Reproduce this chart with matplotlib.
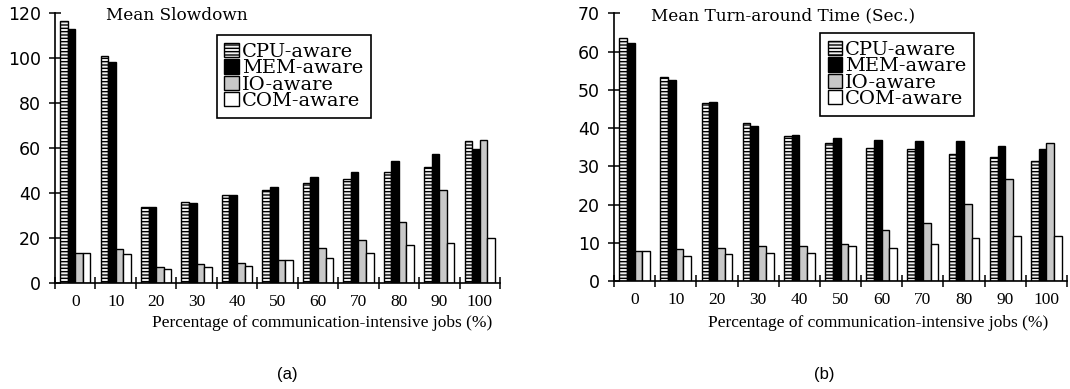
import matplotlib
matplotlib.use('Agg')
import matplotlib.pyplot as plt
from matplotlib.ticker import FixedLocator
import numpy as np

categories = ['0', '10', '20', '30', '40', '50', '60', '70', '80', '90', '100']
series_names = ['CPU-aware', 'MEM-aware', 'IO-aware', 'COM-aware']

slow_cpu = [116.7, 101.1, 33.9, 36.1, 39.1, 41.3, 44.3, 46.3, 49.4, 51.5, 63.1]
slow_mem = [113.0, 98.4, 33.9, 35.4, 39.1, 42.6, 47.1, 49.3, 54.3, 57.5, 59.6]
slow_io = [13.1, 15.0, 6.8, 8.2, 8.9, 10.1, 15.5, 19.0, 27.0, 41.2, 63.7]
slow_com = [13.1, 12.7, 6.1, 6.8, 7.6, 10.1, 11.0, 13.2, 16.9, 17.5, 20.0]

tat_cpu = [63.5, 53.3, 46.5, 41.3, 37.9, 36.1, 34.8, 34.4, 33.2, 32.3, 31.4]
tat_mem = [62.3, 52.5, 46.9, 40.5, 38.2, 37.3, 37.0, 36.6, 36.6, 35.2, 34.5]
tat_io = [7.8, 8.3, 8.7, 9.1, 9.1, 9.8, 13.3, 15.1, 20.2, 26.6, 36.1]
tat_com = [7.8, 6.5, 7.0, 7.4, 7.4, 9.1, 8.7, 9.8, 11.3, 11.7, 11.7]

slow_yticks = [0, 20, 40, 60, 80, 100, 120]
tat_yticks = [0, 10, 20, 30, 40, 50, 60, 70]

titles = ['Mean Slowdown', 'Mean Turn-around Time (Sec.)']
xlabel = 'Percentage of communication-intensive jobs (%)'
panel_labels = ['(a)', '(b)']

plt.rcParams['hatch.linewidth'] = 1.0

styles = [
    dict(facecolor='#f2f2f2', edgecolor='black', hatch='-----'),
    dict(facecolor='black', edgecolor='black'),
    dict(facecolor='#c8c8c8', edgecolor='black'),
    dict(facecolor='white', edgecolor='black'),
]

fig = plt.figure(figsize=(10.7, 3.89), dpi=100)

W, H = 1070.0, 389.0
axes_px = [(55, 500, 282.7, 13.3), (614, 1067, 281.0, 13.3)]
data = [
    ([slow_cpu, slow_mem, slow_io, slow_com], slow_yticks),
    ([tat_cpu, tat_mem, tat_io, tat_com], tat_yticks),
]
title_x = [177, 783]
legend_pos = [(216.7, 35), (820, 33)]
xlabel_x = [322, 878]
panel_x = [287, 824]

x = np.arange(len(categories))
bw = 0.1875
offsets = [-1.5, -0.5, 0.5, 1.5]

for i in range(2):
    l, r, b, t = axes_px[i]
    ax = fig.add_axes([l / W, 1 - b / H, (r - l) / W, (b - t) / H])
    series, yt = data[i]
    handles = []
    for k, vals in enumerate(series):
        h = ax.bar(x + offsets[k] * bw, vals, width=bw, linewidth=1.0, **styles[k],
                   label=series_names[k], zorder=2)
        handles.append(h)
    ax.set_xlim(-0.5, len(categories) - 0.5)
    ax.set_ylim(0, yt[-1])
    ax.set_yticks(yt)
    ax.set_yticklabels([str(v) for v in yt], fontsize=12.5, family='DejaVu Sans')
    ax.tick_params(axis='y', direction='inout', length=8, width=1.1, pad=6)
    ax.set_xticks(x)
    ax.set_xticklabels(categories, fontsize=12.5, family='Liberation Serif')
    ax.tick_params(axis='x', which='major', length=0, pad=8)
    ax.xaxis.set_minor_locator(FixedLocator(np.arange(-0.5, len(categories), 1.0)))
    ax.tick_params(axis='x', which='minor', direction='inout', length=8, width=1.1)
    for s in ['top', 'right']:
        ax.spines[s].set_visible(False)
    for s in ['left', 'bottom']:
        ax.spines[s].set_linewidth(1.2)
    fig.text(title_x[i] / W, 1 - 16 / H, titles[i], ha='center', va='center',
             fontsize=12.2, family='DejaVu Serif')
    fig.text(xlabel_x[i] / W, 1 - 323 / H, xlabel, ha='center', va='center',
             fontsize=12.5, family='Liberation Serif')
    fig.text(panel_x[i] / W, 1 - 374 / H, panel_labels[i], ha='center', va='center',
             fontsize=12, family='Liberation Sans')
    lx, ly = legend_pos[i]
    leg = ax.legend(handles=handles, loc='upper left',
                    bbox_to_anchor=(lx / W, 1 - ly / H), bbox_transform=fig.transFigure,
                    prop={'family': 'DejaVu Serif', 'size': 14},
                    fancybox=False, framealpha=1, edgecolor='black',
                    borderpad=0.4, labelspacing=-0.08, handlelength=0.75,
                    handleheight=0.75, handletextpad=0.15, borderaxespad=0)
    leg.get_frame().set_linewidth(1.2)

fig.savefig('out.png', dpi=100)
